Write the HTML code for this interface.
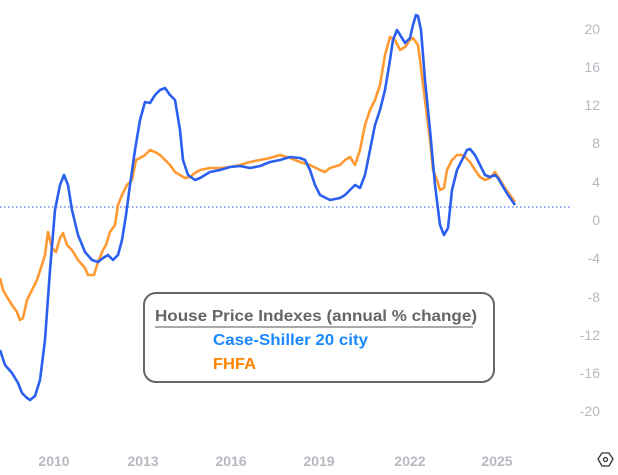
<!DOCTYPE html>
<html><head><style>
body{margin:0;background:#fff;}
svg{display:block;font-family:"Liberation Sans",sans-serif;}
</style></head><body>
<svg width="618" height="475" viewBox="0 0 618 475">
<g fill="#b8b8c0" font-size="14">
<g text-anchor="end">
<text x="600" y="34">20</text><text x="600" y="72">16</text><text x="600" y="110">12</text>
<text x="600" y="148">8</text><text x="600" y="187">4</text><text x="600" y="225">0</text>
<text x="600" y="263">-4</text><text x="600" y="302">-8</text><text x="600" y="340">-12</text>
<text x="600" y="378">-16</text><text x="600" y="416">-20</text>
</g>
<g text-anchor="middle" font-weight="bold"><text x="54" y="466">2010</text><text x="143" y="466">2013</text><text x="231" y="466">2016</text><text x="319" y="466">2019</text><text x="410" y="466">2022</text><text x="497" y="466">2025</text></g>
</g>
<line x1="0" y1="207" x2="570" y2="207" stroke="#3355dd" stroke-width="1" stroke-dasharray="1.5,2.5"/>
<polyline fill="none" stroke="#ff9a33" stroke-width="2.6" stroke-linejoin="round" points="0,278 3,290 7,297 12,305 17,312 20,320 23,318 27,300 32,290 37,280 45,255 48,232 52,248 56,252 60,238 63,233 67,245 72,250 78,260 85,268 88,275 94,275 98,262 103,250 106,245 110,232 115,225 118,205 122,195 127,185 132,180 136,160 140,158 145,155 150,150 155,152 160,155 165,160 170,165 175,172 180,175 185,178 190,177 195,173 200,170 210,168 220,168 230,167 240,165 250,162 260,160 270,158 280,155 290,158 300,162 310,165 320,170 325,172 330,168 340,165 345,160 350,157 355,165 360,150 365,125 370,110 375,100 380,85 385,55 390,37 395,40 400,50 405,47 410,40 413,38 418,45 420,60 425,100 430,140 433,170 437,180 440,190 444,188 447,170 452,160 457,155 462,155 465,157 470,162 475,170 480,177 485,180 490,178 495,172 500,180 505,188 510,195 515,202"/>
<polyline fill="none" stroke="#2a5ff0" stroke-width="2.6" stroke-linejoin="round" points="0,350 5,365 12,373 18,383 22,393 27,398 30,400 35,396 40,380 45,340 50,270 55,210 60,185 64,175 68,185 72,210 78,235 85,252 92,260 98,262 103,258 108,255 113,260 118,255 122,240 126,215 130,185 135,150 140,120 145,102 150,103 155,95 160,90 165,88 170,95 175,100 180,130 183,160 188,175 195,180 200,178 205,175 210,172 220,170 230,167 240,166 250,168 260,166 270,162 280,160 290,157 300,158 305,160 310,170 315,185 320,195 330,200 340,198 345,195 350,190 355,185 360,188 365,175 370,150 375,125 380,110 385,90 390,60 393,40 397,30 402,38 405,43 410,38 413,25 416,15 418,16 421,30 425,80 430,130 435,185 440,225 444,235 448,228 452,190 457,170 462,160 467,150 470,149 475,155 480,165 485,175 490,177 495,175 498,178 502,185 508,195 515,205"/>
<rect x="144" y="293" width="350" height="89" rx="12" fill="#fff" fill-opacity="0.9" stroke="#666" stroke-width="2"/>
<text x="155" y="321" font-size="16" font-weight="bold" fill="#666" textLength="322" lengthAdjust="spacingAndGlyphs">House Price Indexes (annual % change)</text>
<line x1="155" y1="327" x2="473" y2="327" stroke="#555" stroke-width="1"/>
<text x="213" y="345" font-size="16" font-weight="bold" fill="#1a88ff" textLength="155" lengthAdjust="spacingAndGlyphs">Case-Shiller 20 city</text>
<text x="213" y="369" font-size="16" font-weight="bold" fill="#ff8200" textLength="43" lengthAdjust="spacingAndGlyphs">FHFA</text>
<polygon points="598,459 602,453 609,453 613,459 609,466 602,466" fill="none" stroke="#333" stroke-width="1.3"/>
<circle cx="605.5" cy="459.5" r="2" fill="none" stroke="#333" stroke-width="1.2"/>
</svg>
</body></html>
